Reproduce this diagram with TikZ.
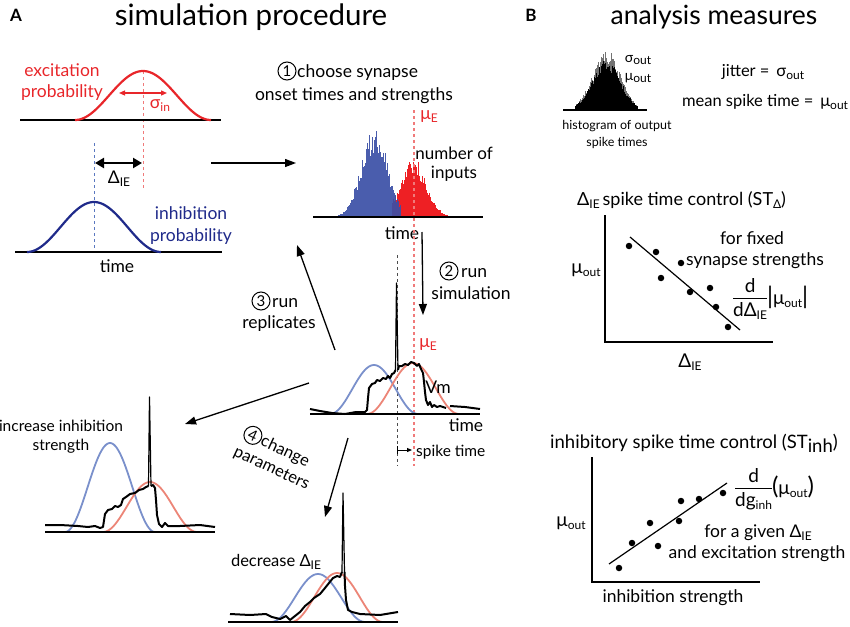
\documentclass[tikz,border=0pt]{standalone}
\usepackage{fontspec}
\setmainfont{Lato}
\usetikzlibrary{arrows.meta}
\definecolor{excred}{HTML}{E8262A}
\definecolor{inhblue}{HTML}{1F2A8A}
\definecolor{ltblue}{HTML}{7A90CB}
\definecolor{ltred}{HTML}{EC8577}
\definecolor{dashred}{HTML}{F07A7A}
\definecolor{dashblue}{HTML}{5A78C0}
\definecolor{histblue}{HTML}{3B4FA6}
\definecolor{histred}{HTML}{EE2024}
\newcommand\fs[2]{\fontsize{#1}{#2}\selectfont}
\newcommand\lsub[1]{\raisebox{-0.35ex}{\fontsize{12}{12}\selectfont #1}}
\newcommand\frc[2]{{\setlength\arrayrulewidth{1pt}\renewcommand\arraystretch{0.85}\begin{tabular}[c]{@{}c@{}}#1\\\hline\rule{0pt}{17pt}#2\end{tabular}}}
\newcommand\bigd[1]{{\fontsize{24}{24}\selectfont #1}}
\begin{document}
\begin{tikzpicture}[x=1pt,y=-1pt,
  lbl/.style={font=\fs{17.5}{21}, inner sep=0pt, align=center},
  ttl/.style={font=\fs{30}{34}, inner sep=0pt},
  panel/.style={font=\bfseries\fs{17}{17}, inner sep=0pt},
  cnum/.style={circle, draw, line width=1pt, inner sep=0pt, minimum size=18pt, font=\fs{15}{15}},
  base/.style={line width=2.5pt},
  arr/.style={line width=1.3pt, -{Triangle[length=11pt,width=8pt]}},
  vm/.style={line width=2pt, line join=round},
  spk/.style={line width=1.2pt, line join=round},
  dot/.style={circle, fill=black, inner sep=0pt, minimum size=6.5pt}]
\useasboundingbox (0,0) rectangle (850,626);
\pgfmathsetseed{11}

% ---------------- Panel A ----------------
\node[panel] (pA) at (16,15) {A};
\node[ttl, font=\fs{29.5}{34}] (tA) at (251,17) {simulation procedure};

% excitation probability
\draw[dashred, dashed, line width=1pt] (143,71) -- (143,188);
\draw[base] (20,120) -- (221,120);
\draw[excred, line width=2.2pt] plot[domain=75:211, samples=70] (\x,{120-49*(1+cos(180*(\x-143)/68))/2});
\draw[excred, line width=1.2pt, {Triangle[length=6pt,width=5pt]}-{Triangle[length=6pt,width=5pt]}] (119,93) -- (167,93);
\node[lbl, text=excred] (exc) at (62,82) {excitation\\probability};
\node[lbl, text=excred] (sig) at (160,106) {σ\lsub{in}};

% delta IE
\draw[dashblue, dashed, line width=1pt] (94,143) -- (94,252);
\draw[line width=2.5pt, {Triangle[length=9pt,width=10pt]}-{Triangle[length=9pt,width=10pt]}] (95,163) -- (142,163);
\node[lbl] (dIE) at (119,179) {Δ\lsub{IE}};

% inhibition probability
\draw[base] (15,252) -- (222,252);
\draw[inhblue, line width=2.2pt] plot[domain=27:161, samples=70] (\x,{252-50*(1+cos(180*(\x-94)/67))/2});
\node[lbl, text=inhblue, font=\fs{17.5}{22}] (inh) at (191,226) {inhibition\\probability};
\node[lbl] (t1) at (117,266) {time};

% arrow 1
\coordinate (a1s) at (211,163); \coordinate (a1e) at (296,163);
\draw[arr] (a1s) -- (a1e);

% step 1 text
\node[cnum] (c1) at (287,71) {1};
\node[lbl, anchor=west] (ch) at (297,73) {choose synapse};
\node[lbl] (ons) at (354,96) {onset times and strengths};

% histogram
\foreach \i in {0,...,58} {
  \pgfmathsetmacro\xx{392+\i}
  \pgfmathsetmacro\hh{56*exp(-((\xx-413)^2)/(2*13^2))*(0.72+0.35*rnd)}
  \fill[histred] (\xx,217) rectangle ++(1,-\hh);
}
\foreach \i in {0,...,62} {
  \pgfmathsetmacro\xx{338+\i}
  \pgfmathsetmacro\hh{90*exp(-((\xx-374)^2)/(2*13^2))*(0.7+0.33*rnd)}
  \fill[histblue, opacity=0.92] (\xx,217) rectangle ++(1,-\hh);
}
\draw[base] (313,217) -- (483,217);
\node[lbl, font=\fs{17}{19}] (noi) at (454,164) {number of\\inputs};
\node[lbl] (t2) at (402,233) {time};

% long dashed lines
\draw[dashred, dashed, line width=1.2pt] (414,110) -- (414,466);
\draw[black!70, dashed, line width=1pt] (397,255) -- (397,466);
\node[lbl, text=excred, fill=white, inner sep=1pt] (muE1) at (429,117) {μ\lsub{E}};

% arrow 2
\coordinate (a2s) at (422,232); \coordinate (a2e) at (423,315);
\draw[arr] (a2s) -- (a2e);
\node[cnum] (c2) at (449,271) {2};
\node[lbl, anchor=west] (run2) at (461,273) {run};
\node[lbl] (sim) at (471,293) {simulation};

% middle trace
\draw[ltblue, line width=1.8pt] plot[domain=330:418, samples=60] (\x,{414-49*(1+cos(180*(\x-374)/44))/2});
\draw[ltred, line width=1.8pt] plot[domain=367:459, samples=60] (\x,{414-51*(1+cos(180*(\x-413)/46))/2});
\node[lbl, text=excred, fill=white, inner sep=1pt] (muE2) at (428,345) {μ\lsub{E}};
\draw[vm] (310,409) -- (320,411) -- (332,413) -- (345,414) -- (356,412) -- (365,412) -- (367,410) -- (368,398) -- (369,388) -- (372,384) -- (375,383) -- (377,380) -- (380,381) -- (383,378) -- (386,379) -- (388,376) -- (390,378) -- (392,374) -- (394,373) -- (395.5,370);
\draw[spk] (395.5,370) -- (396.5,283) -- (398,370);
\draw[vm] (398,370) -- (399,366) -- (402,366) -- (405,364) -- (408,365) -- (411,362) -- (414,363) -- (417,366) -- (419,364) -- (421,369) -- (423,373) -- (424,382) -- (425,392) -- (426,400) -- (428,405) -- (430,402) -- (432,407) -- (434,405) -- (437,407) -- (440,406) -- (446,408);
\draw[vm] (450,406) -- (465,407) -- (480,409);
\draw[base] (310,414) -- (480,414);
\node[lbl] (vmt) at (438,387) {Vm};
\node[lbl] (t3) at (466,425) {time};
\draw[line width=1pt] (397,446) -- (397,454);
\draw[line width=1pt, -{Triangle[length=5pt,width=4pt]}] (397,450) -- (412,450);
\node[lbl, anchor=west, font=\fs{15.5}{17}] (spt) at (416,452) {spike time};

% arrow 3
\coordinate (a3s) at (335,350); \coordinate (a3e) at (297,245);
\draw[arr] (a3s) -- (a3e);
\node[cnum] (c3) at (261,301) {3};
\node[lbl, anchor=west] (run3) at (272,303) {run};
\node[lbl] (rep) at (279,324) {replicates};

% arrows 4
\coordinate (a4s) at (309,383); \coordinate (a4e) at (185,424);
\draw[arr] (a4s) -- (a4e);
\coordinate (a5s) at (348,438); \coordinate (a5e) at (325,517);
\draw[arr] (a5s) -- (a5e);
\node[lbl, rotate=-25, align=left, font=\fs{16.5}{21}] (chg) at (276,459) {\hspace{20pt}change\\parameters};
\path (chg.north west) ++(25:10) ++(115:6.5) node[cnum, rotate=-25] (c4) {4};

% bottom-left trace
\node[lbl, font=\fs{15.5}{19}] (inc) at (61,437) {increase inhibition\\strength};
\draw[ltblue, line width=1.8pt] plot[domain=65:155, samples=60] (\x,{532-89*(1+cos(180*(\x-110)/45))/2});
\draw[ltred, line width=1.8pt] plot[domain=103:197, samples=60] (\x,{532-50*(1+cos(180*(\x-150)/47))/2});
\draw[vm] (45,525) -- (60,525) -- (78,526) -- (88,527) -- (95,526) -- (100,528) -- (103,527) -- (105,514) -- (108,510) -- (112,509) -- (115,506) -- (118,507) -- (121,505) -- (123,499) -- (126,497) -- (130,494) -- (135,493) -- (139,490) -- (143,489) -- (146,487) -- (148.5,486);
\draw[spk] (148.5,486) -- (149.5,397) -- (151,486);
\draw[vm] (151,486) -- (153,485) -- (155,488) -- (156,500) -- (157,515) -- (159,524) -- (162,527) -- (165,523) -- (168,526) -- (180,526) -- (200,525) -- (215,527);
\draw[base] (45,532) -- (215,532);

% bottom-centre trace
\node[lbl, font=\fs{16.5}{19}] (dec) at (276,562) {decrease Δ\lsub{IE}};
\draw[ltblue, line width=1.8pt] plot[domain=271:365, samples=60] (\x,{622-48*(1+cos(180*(\x-318)/47))/2});
\draw[ltred, line width=1.8pt] plot[domain=291:383, samples=60] (\x,{622-49*(1+cos(180*(\x-337)/46))/2});
\draw[vm] (230,614) -- (250,615) -- (266,614) -- (272,617) -- (280,619) -- (286,616) -- (290,620) -- (295,616) -- (300,612) -- (305,606) -- (310,602) -- (314,598) -- (320,594) -- (325,588) -- (329,583) -- (333,578) -- (337,576) -- (340,577) -- (342,572);
\draw[spk] (342,572) -- (343,493) -- (344.5,572);
\draw[vm] (344.5,572) -- (345,586) -- (346,600) -- (348,610) -- (352,612) -- (360,614) -- (380,615) -- (398,612);
\draw[base] (228,622) -- (398,622);

% ---------------- Panel B ----------------
\node[panel] (pB) at (531,15) {B};
\node[ttl, font=\fs{26.5}{30}] (tB) at (714,17) {analysis measures};

% output histogram
\foreach \i in {0,...,62} {
  \pgfmathsetmacro\xx{575+\i}
  \pgfmathsetmacro\hh{56*exp(-((\xx-606)^2)/(2*14^2))*(0.8+0.28*rnd)}
  \fill[black!55] (\xx,110) rectangle ++(0.7,-\hh);
  \pgfmathsetmacro\hb{53*exp(-((\xx-606)^2)/(2*14^2))*(0.74+0.22*rnd)}
  \fill[black] (\xx,110) rectangle ++(1,-\hb);
}
\draw[line width=1.5pt] (563,110) -- (647,110);
\node[lbl, font=\fs{14}{16}] (so) at (638,60) {σ\lsub{out}};
\node[lbl, font=\fs{14}{16}] (mo) at (638,78) {μ\lsub{out}};
\node[lbl, font=\fs{12.5}{17}] (hist) at (617,134) {histogram of output\\spike times};
\node[lbl, font=\fs{16.5}{19}] (jit) at (763,72) {jitter = \,σ\lsub{out}};
\node[lbl, font=\fs{16.5}{19}] (mst) at (765,102) {mean spike time = \,μ\lsub{out}};

% STDelta
\node[lbl, anchor=west, font=\fs{18}{21}] (st1) at (577,200) {Δ\lsub{IE}\,spike time control (ST\lsub{Δ})};
\draw[line width=2.5pt] (605,215) -- (605,342) -- (773,342);
\node[lbl, font=\fs{19}{21}] (mu1) at (586,270) {μ\lsub{out}};
\node[lbl, font=\fs{19}{21}] (dx1) at (690,362) {Δ\lsub{IE}};
\draw[line width=1.2pt] (630,237) -- (740,330);
\foreach \p/\q [count=\k] in {629/246, 656/252, 681/263, 661/278, 690/292, 710/288, 716/307, 728/327}
  \node[dot] (d1\k) at (\p,\q) {};
\node[lbl] (ff) at (752,238) {for fixed};
\node[lbl] (ss) at (755,261) {synapse strengths};
\node[lbl, anchor=west, font=\fs{19}{21}] (fr1) at (733,300) {\frc{d}{dΔ\lsub{IE}}\bigd{|}μ\lsub{out}\bigd{|}};

% STinh
\node[lbl, anchor=east, font=\fs{18.5}{21}] (st2) at (838,443) {inhibitory spike time control (ST\raisebox{-0.45ex}{inh})};
\draw[line width=2.5pt] (592,457) -- (592,582) -- (760,582);
\node[lbl, font=\fs{19}{21}] (mu2) at (571,523) {μ\lsub{out}};
\node[lbl] (dx2) at (673,598) {inhibition strength};
\draw[line width=1.2pt] (609,564) -- (727,483);
\foreach \p/\q [count=\k] in {619/568, 632/543, 650/523, 658/546, 679/521, 681/501, 699/499, 723/493}
  \node[dot] (d2\k) at (\p,\q) {};
\node[lbl, anchor=west, font=\fs{19}{21}] (fr2) at (735,490) {\frc{d}{dg\lsub{inh}}\bigd{(}μ\lsub{out}\bigd{)}};
\node[lbl] (fg) at (758,533) {for a given Δ\lsub{IE}};
\node[lbl] (ae) at (757,554) {and excitation strength};
\end{tikzpicture}
\end{document}
